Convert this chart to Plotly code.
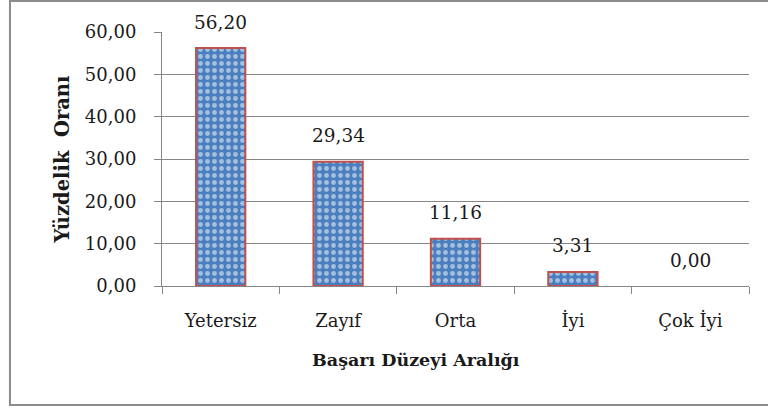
import plotly.graph_objects as go

categories = ["Yetersiz", "Zayıf", "Orta", "İyi", "Çok İyi"]
values = [56.20, 29.34, 11.16, 3.31, 0.00]
y_ticks = [0, 10, 20, 30, 40, 50, 60]

FONT = "DejaVu Serif"
GRID = "#868686"
BLUE = "#4a7ebe"
RED = "#c0504d"
TXT = "#1a1a1a"

fig = go.Figure()
fig.add_trace(go.Bar(
    x=categories, y=values, width=0.42,
    marker=dict(
        color=BLUE,
        line=dict(color=RED, width=[2 if v > 0 else 0 for v in values]),
        pattern=dict(shape=".", fgcolor="white", bgcolor=BLUE, size=7, solidity=0.38,
                     fillmode="overlay"),
    ),
    hoverinfo="skip",
))

for c, v in zip(categories, values):
    fig.add_annotation(x=c, y=v, text=f"{v:.2f}".replace(".", ","), showarrow=False,
                       yanchor="middle", yshift=26, font=dict(family=FONT, size=18.5, color=TXT))

fig.add_annotation(xref="paper", yref="paper", x=0.433, y=-0.291, text="<b>Başarı Düzeyi Aralığı</b>",
                   showarrow=False, xanchor="center", yanchor="middle",
                   font=dict(family=FONT, size=17.5, color=TXT))

fig.add_shape(type="rect", xref="paper", yref="paper", x0=-0.259, x1=1.06, y0=-0.4685, y1=1.122,
              line=dict(color="#8c8c8c", width=2), fillcolor="rgba(0,0,0,0)", layer="below")

fig.update_layout(
    width=768, height=414,
    margin=dict(l=162, r=19, t=32, b=128, autoexpand=False),
    paper_bgcolor="white", plot_bgcolor="white",
    separators=",.",
    showlegend=False,
    font=dict(family=FONT, size=18, color=TXT),
)
fig.update_xaxes(
    automargin=False,
    showline=True, linecolor=GRID, linewidth=1,
    ticks="outside", tickson="boundaries", ticklen=7, tickcolor=GRID,
    ticklabelstandoff=18,
    tickfont=dict(family=FONT, size=18, color=TXT),
)
fig.update_yaxes(
    automargin=False,
    range=[0, 60], tickvals=y_ticks, tickformat=".2f",
    showgrid=True, gridcolor=GRID, gridwidth=1,
    showline=True, linecolor=GRID, linewidth=1,
    ticks="outside", ticklen=7, tickcolor=GRID,
    ticklabelstandoff=14, zeroline=False,
    tickfont=dict(family=FONT, size=18, color=TXT),
    title=dict(text="<b>Yüzdelik&nbsp;&nbsp;Oranı</b>", standoff=10, font=dict(family=FONT, size=19.5, color=TXT)),
)

fig.write_html("out.html", config={"displayModeBar": False}, post_script="document.body.style.margin='0';")
